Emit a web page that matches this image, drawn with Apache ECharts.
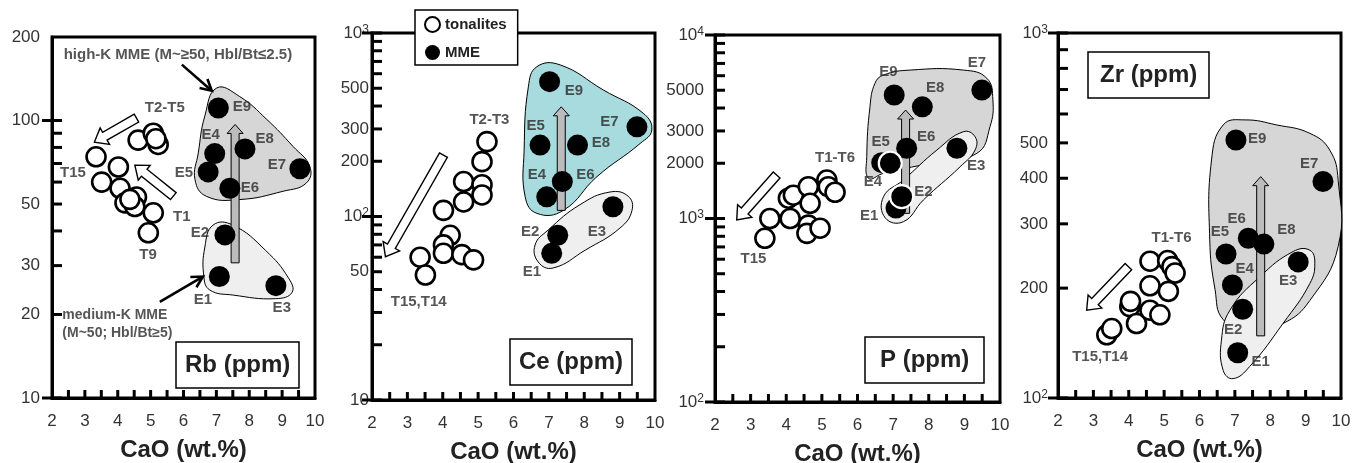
<!DOCTYPE html>
<html><head><meta charset="utf-8">
<script src="https://cdn.jsdelivr.net/npm/echarts@6/dist/echarts.min.js"></script>
<style>html,body{margin:0;padding:0;background:#fff}#c{width:1360px;height:463px}</style>
</head><body><div id="c"></div>
<script>
// ================= DATA =================
// x = CaO (wt.%), y = ppm
const rbTonalites = [[3.34,74],[3.51,60],[4.02,68],[4.07,57],[4.22,50.5],[4.57,53],[4.52,49],[4.37,52],[5.08,46.5],[4.93,39.4],[4.62,85],[5.08,90],[5.23,82],[5.16,86]];
const rbMME = [[7.09,27.4],[7.26,38.7],[8.81,25.4],[6.95,76],[6.75,65.3],[7.41,57],[9.54,67],[7.87,79],[7.06,111]]; // E1..E9
const ceTonalites = [[5.25,256],[5.11,199],[4.59,155],[5.11,149],[5.11,131],[4.59,120],[4.02,108],[4.21,79],[4.02,70],[4.02,63],[4.54,62],[4.87,58],[3.36,60],[3.51,48]];
const ceMME = [[7.08,63],[7.25,79],[8.81,113],[6.94,128],[6.75,245],[7.38,155],[9.49,308],[7.81,245],[7.02,543]];
const pTonalites = [[3.40,780],[3.54,1000],[4.11,1000],[4.06,1290],[4.20,1340],[4.62,1490],[4.67,1210],[4.62,920],[4.58,830],[4.95,885],[5.14,1620],[5.18,1490],[5.37,1390]];
const pMME = [[7.08,1140],[7.24,1315],[8.79,2415],[6.92,2000],[6.68,2015],[7.38,2415],[9.49,5010],[7.82,4060],[7.03,4710]];
const pMMEOutlined = [1,3]; // E2, E4 drawn with white rim
const zrTonalites = [[3.38,149],[3.52,155],[4.03,178],[4.05,184],[4.22,160],[4.60,174],[4.88,169],[4.60,203],[5.12,196],[4.60,237],[5.10,238],[5.22,229],[5.31,220]];
const zrMME = [[7.08,133],[7.22,175],[8.79,236],[6.93,204],[6.75,248],[7.38,274],[9.49,392],[7.82,264],[7.03,509]];

// field outlines
const rbHighK = [[7.01,131],[7.71,122],[8.53,101],[9.33,80.7],[9.84,68.4],[9.74,59.6],[9.03,55.6],[7.71,51.9],[6.70,53.3],[6.35,61.2],[6.45,76.4],[6.65,104]];
const rbMedK = [[6.9,42],[7.5,42],[8.5,34],[9.2,27],[9.3,24],[8.8,22.8],[7.5,23.5],[6.8,24.5],[6.62,27.4],[6.65,35]];
const ceHighK = [[6.66,655],[7.32,670],[8.54,489],[9.67,365],[9.91,296],[9.58,250],[8.36,165],[7.41,108],[6.66,104],[6.33,128],[6.30,230],[6.42,509]];
const ceMedK = [[8.73,136],[9.24,129],[9.35,108],[9.01,86.5],[8.03,65.6],[7.12,52.4],[6.70,56.5],[6.61,70],[6.98,84.4],[7.88,116]];
const pHighK = [[6.73,6050],[7.48,6440],[8.97,6440],[9.63,5810],[9.80,4425],[9.72,3165],[9.35,2265],[8.04,2000],[6.73,1763],[6.31,1655],[6.26,2172],[6.35,4065],[6.49,5455]];
const pMedK = [[8.97,2970],[9.30,2790],[9.30,2362],[8.88,1914],[7.85,1262],[7.29,961],[6.78,1007],[6.73,1315],[7.29,1622],[8.23,2362]];
const zrHighK = [[7.29,578],[8.18,560],[9.12,531],[9.68,478],[9.92,395],[9.92,260],[9.12,185],[8.36,160],[7.42,153],[6.67,164],[6.44,198],[6.29,271],[6.34,449],[6.67,560]];
const zrMedK = [[9.12,254],[9.26,234],[9.12,206],[8.36,160],[7.42,122],[6.95,113],[6.67,119],[6.62,144],[6.86,174],[7.71,215],[8.65,252]];

// trend arrows [tail, tip]
const rbGrayArrow = [[7.57,30.7],[7.57,96.8]];
const ceGrayArrow = [[7.35,108],[7.35,396]];
const pGrayArrow = [[7.35,1067],[7.35,3900]];
const zrGrayArrow = [[7.73,148],[7.73,404]];
const rbOpenArrows = [[[4.57,102],[3.29,83.6]],[[5.69,53.4],[4.52,69]]];
const ceOpenArrows = [[[4.02,216],[2.38,60.4]]];
const pOpenArrows = [[[3.73,1726],[2.61,982]]];
const zrOpenArrows = [[[3.99,229],[2.81,174]]];
const rbPointers = [[[5.95,159],[6.86,128]],[[5.28,22.2],[6.59,27.4]]];

// text annotations [x, y, text]
const rbText = [[5.43,111,'T2-T5'],[2.64,64.9,'T15'],[5.95,45,'T1'],[4.92,32.8,'T9'],[6.59,22.6,'E1'],[6.50,39.4,'E2'],[8.99,21.2,'E3'],[6.83,89,'E4'],[6.01,64.9,'E5'],[8.02,57.3,'E6'],[8.84,69.3,'E7'],[8.47,86,'E8'],[7.78,112,'E9'],[5.83,173,'high-K MME (M~≥50, Hbl/Bt≤2.5)']];
const rbTextLeft = [[2.30,18.5,'medium-K MME\n(M~50; Hbl/Bt≥5)']];
const ceText = [[5.32,336,'T2-T3'],[3.32,34.4,'T15,T14'],[6.52,50,'E1'],[6.47,82.6,'E2'],[8.36,82.6,'E3'],[6.66,168,'E4'],[6.63,311,'E5'],[8.03,168,'E6'],[8.71,329,'E7'],[8.47,251,'E8'],[7.71,485,'E9']];
const pText = [[5.37,2130,'T1-T6'],[3.08,600,'T15'],[6.33,1033,'E1'],[7.85,1400,'E2'],[9.33,1933,'E3'],[6.43,1588,'E4'],[6.65,2625,'E5'],[7.93,2790,'E6'],[9.35,7060,'E7'],[8.18,5120,'E8'],[6.87,6310,'E9']];
const zrText = [[5.21,274,'T1-T6'],[3.19,130,'T15,T14'],[7.73,126,'E1'],[6.95,154,'E2'],[8.51,210,'E3'],[7.28,226,'E4'],[6.58,286,'E5'],[7.05,310,'E6'],[9.10,437,'E7'],[8.46,288,'E8'],[7.63,512,'E9']];

// axes
const xRange = [2, 10];
const xTicks = [2.5,3,3.5,4,4.5,5,5.5,6,6.5,7,7.5,8,8.5,9,9.5];
const rbRange = [10, 200], ceRange = [10, 1000], pRange = [100, 10000], zrRange = [100, 1000];
const rbTicks = [20,30,40,50,60,70,80,90,100];
const ceTicks = [20,30,40,50,60,70,80,90,100,200,300,400,500,600,700,800,900];
const pTicks = [200,300,400,500,600,700,800,900,1000,2000,3000,4000,5000,6000,7000,8000,9000];
const zrTicks = [200,300,400,500,600,700,800,900];
const rbLabels = [10,20,30,50,100,200];
const ceLabels = [10,50,100,200,300,500,1000];
const pLabels = [100,1000,2000,3000,5000,10000];
const zrLabels = [100,200,300,400,500,1000];
const rbMajor = [10,100], ceMajor = [10,100,1000], pMajor = [100,1000,10000], zrMajor = [100,1000];
const elementNames = ['Rb (ppm)','Ce (ppm)','P (ppm)','Zr (ppm)'];
const xName = 'CaO (wt.%)';

// ================= CHART =================
const FONT = 'Liberation Sans, Arial, Helvetica, sans-serif';
const panels = [
  {grid:{left:52,top:37,width:263,height:361}, range:rbRange, ticks:rbTicks, labels:rbLabels, major:rbMajor, sup:false, margin:12,
   ton:rbTonalites, mme:rbMME, outlined:[], high:rbHighK, highFill:'#d6d6d6', med:rbMedK, gray:rbGrayArrow, open:rbOpenArrows, pointers:rbPointers, text:rbText, textLeft:rbTextLeft,
   title:{left:176,top:342,pad:[11,9]}},
  {grid:{left:372,top:33,width:283,height:367}, range:ceRange, ticks:ceTicks, labels:ceLabels, major:ceMajor, sup:true, margin:3,
   ton:ceTonalites, mme:ceMME, outlined:[], high:ceHighK, highFill:'#a8dbde', med:ceMedK, gray:ceGrayArrow, open:ceOpenArrows, pointers:[], text:ceText, textLeft:[],
   title:{left:510,top:339,pad:[11,9]}},
  {grid:{left:715,top:35,width:285,height:367}, range:pRange, ticks:pTicks, labels:pLabels, major:pMajor, sup:true, margin:11,
   ton:pTonalites, mme:pMME, outlined:pMMEOutlined, high:pHighK, highFill:'#d6d6d6', med:pMedK, gray:pGrayArrow, open:pOpenArrows, pointers:[], text:pText, textLeft:[],
   title:{left:865,top:337,pad:[11,15]}},
  {grid:{left:1058,top:33,width:283,height:365}, range:zrRange, ticks:zrTicks, labels:zrLabels, major:zrMajor, sup:true, margin:10,
   ton:zrTonalites, mme:zrMME, outlined:[], high:zrHighK, highFill:'#d6d6d6', med:zrMedK, gray:zrGrayArrow, open:zrOpenArrows, pointers:[], text:zrText, textLeft:[],
   title:{left:1088,top:52,pad:[11,12]}}
];

function polySeries(verts, fill, xi, yi){
  return {type:'custom', coordinateSystem:'cartesian2d', xAxisIndex:xi, yAxisIndex:yi, z:1, silent:true, clip:false,
    data: verts, encode:{x:0,y:1},
    renderItem:(params, api)=>{
      if(params.dataIndex!==0) return null;
      const pts = verts.map(v=>api.coord(v));
      return {type:'polygon', shape:{points:pts, smooth:0.45}, style:{fill:fill, stroke:'#000', lineWidth:1}};
    }};
}
function arrowSeries(pair, opt, xi, yi){
  return {type:'custom', coordinateSystem:'cartesian2d', xAxisIndex:xi, yAxisIndex:yi, z:2, silent:true, clip:false,
    data: pair, encode:{x:0,y:1},
    renderItem:(params, api)=>{
      if(params.dataIndex!==0) return null;
      const a=api.coord(pair[0]), b=api.coord(pair[1]);
      let dx=b[0]-a[0], dy=b[1]-a[1]; const L=Math.hypot(dx,dy); dx/=L; dy/=L;
      const nx=-dy, ny=dx, w=opt.shaft/2, hw=opt.head/2, hl=opt.headLen;
      const bx=b[0]-dx*hl, by=b[1]-dy*hl;
      const pts=[[a[0]+nx*w,a[1]+ny*w],[bx+nx*w,by+ny*w],[bx+nx*hw,by+ny*hw],[b[0],b[1]],[bx-nx*hw,by-ny*hw],[bx-nx*w,by-ny*w],[a[0]-nx*w,a[1]-ny*w]];
      return {type:'polygon', shape:{points:pts}, style:{fill:opt.fill, stroke:'#000', lineWidth:opt.lw}};
    }};
}
function pointerSeries(pair, xi, yi){
  return {type:'custom', coordinateSystem:'cartesian2d', xAxisIndex:xi, yAxisIndex:yi, z:2, silent:true, clip:false,
    data: pair, encode:{x:0,y:1},
    renderItem:(params, api)=>{
      if(params.dataIndex!==0) return null;
      const a=api.coord(pair[0]), b=api.coord(pair[1]);
      let dx=b[0]-a[0], dy=b[1]-a[1]; const L=Math.hypot(dx,dy); dx/=L; dy/=L;
      const nx=-dy, ny=dx;
      return {type:'group', children:[
        {type:'line', shape:{x1:a[0],y1:a[1],x2:b[0]-dx*2,y2:b[1]-dy*2}, style:{stroke:'#000', lineWidth:2.6}},
        {type:'polyline', shape:{points:[[b[0]-dx*11+nx*6,b[1]-dy*11+ny*6],[b[0],b[1]],[b[0]-dx*11-nx*6,b[1]-dy*11-ny*6]]}, style:{stroke:'#000', lineWidth:2.6, fill:null}}
      ]};
    }};
}

const grids=[], xAxes=[], yAxes=[], series=[], titles=[];
panels.forEach((p,i)=>{
  grids.push(Object.assign({show:true, borderColor:'#000', borderWidth:3, backgroundColor:'transparent', containLabel:false, outerBoundsMode:'none'}, p.grid));
  xAxes.push({type:'value', gridIndex:i, min:xRange[0], max:xRange[1], interval:1,
    axisLine:{show:true, onZero:false, lineStyle:{color:'#000', width:3}},
    axisTick:{show:false},
    axisLabel:{show:true, fontSize:17, color:'#333', margin:15, fontFamily:FONT},
    splitLine:{show:false},
    name:xName, nameLocation:'middle', nameGap:40, nameTextStyle:{fontSize:24, fontWeight:'bold', color:'#222', fontFamily:FONT}});
  const fmt = v=>{
    const e=Math.log10(v), r=Math.round(e);
    if(p.sup && v>=100 && Math.abs(e-r)<1e-9) return '{b|10}{s|'+r+'}';
    return '{b|'+Math.round(v)+'}';
  };
  yAxes.push({type:'log', logBase:10, gridIndex:i, min:p.range[0], max:p.range[1], position:'left',
    axisLine:{show:true, onZero:false, lineStyle:{color:'#000', width:3}},
    axisTick:{show:false},
    axisLabel:{show:true, margin:p.margin, customValues:p.labels, formatter:fmt, fontFamily:FONT,
      rich:{b:{fontSize:17, lineHeight:19, color:'#333', fontFamily:FONT}, s:{fontSize:12, lineHeight:12, color:'#333', verticalAlign:'top', fontFamily:FONT}}},
    splitLine:{show:false}, minorTick:{show:false}});
  const yi = i;
  series.push(polySeries(p.high, p.highFill, i, yi));
  series.push(polySeries(p.med, '#efefef', i, yi));
  series.push(arrowSeries(p.gray, {shaft:8, head:16, headLen:9, fill:'#bcbcbc', lw:1}, i, yi));
  p.open.forEach(a=>series.push(arrowSeries(a, {shaft:9, head:19, headLen:12, fill:'#fff', lw:1.4}, i, yi)));
  p.pointers.forEach(a=>series.push(pointerSeries(a, i, yi)));
  series.push({type:'scatter', name:'tonalites', xAxisIndex:i, yAxisIndex:yi, data:p.ton, symbol:'circle', symbolSize:19, z:3, silent:true, clip:false,
    itemStyle:{color:'#fff', borderColor:'#000', borderWidth:2.6, opacity:1}});
  const mmeItems = p.mme.map((v,k)=>({value:v, k:k}));
  mmeItems.sort((a,b)=>(p.outlined.includes(a.k)?1:0)-(p.outlined.includes(b.k)?1:0));
  series.push({type:'scatter', name:'MME', xAxisIndex:i, yAxisIndex:yi, symbol:'circle', symbolSize:21, z:4, silent:true, clip:false,
    itemStyle:{color:'#000', borderColor:'#000', borderWidth:0, opacity:1},
    data: mmeItems.map(it=>p.outlined.includes(it.k)?{value:it.value, symbolSize:23, itemStyle:{color:'#000', borderColor:'#fff', borderWidth:2.2}}:{value:it.value})});
  series.push({type:'scatter', xAxisIndex:i, yAxisIndex:yi, symbol:'circle', symbolSize:1, z:5, silent:true, clip:false,
    itemStyle:{color:'rgba(0,0,0,0)'},
    label:{show:true, position:'inside', formatter:'{b}', fontSize:15, fontWeight:'bold', color:'#2a2a2a', fontFamily:FONT, textBorderWidth:0},
    data:p.text.map(t=>({value:[t[0],t[1]], name:t[2]}))});
  if(p.textLeft.length) series.push({type:'scatter', xAxisIndex:i, yAxisIndex:yi, symbol:'circle', symbolSize:1, z:5, silent:true, clip:false,
    itemStyle:{color:'rgba(0,0,0,0)'},
    label:{show:true, position:'right', distance:0, align:'left', formatter:'{b}', fontSize:14, lineHeight:18, fontWeight:'bold', color:'#2a2a2a', fontFamily:FONT, textBorderWidth:0},
    data:p.textLeft.map(t=>({value:[t[0],t[1]], name:t[2]}))});
  titles.push({text:elementNames[i], left:p.title.left, top:p.title.top, padding:p.title.pad, borderColor:'#000', borderWidth:1.5, backgroundColor:'#fff',
    textStyle:{fontSize:24, fontWeight:'bold', color:'#222', fontFamily:FONT}});
});

const chart = echarts.init(document.getElementById('c'), null, {renderer:'canvas'});
chart.setOption({
  animation:false, backgroundColor:'#fff',
  title:titles,
  legend:{show:true, left:415, top:10, orient:'vertical', data:['tonalites','MME'], icon:'circle', itemWidth:15, itemHeight:15, itemGap:12,
    padding:[6,11,5,9], borderColor:'#000', borderWidth:1.5, backgroundColor:'#fff', selectedMode:false,
    textStyle:{fontSize:15, fontWeight:'bold', color:'#222', fontFamily:FONT}},
  grid:grids, xAxis:xAxes, yAxis:yAxes, series:series
});

// axis tick marks, positioned through each grid's own axis scales
const tickEls = [];
const tickLine = (x1,y1,x2,y2)=>tickEls.push({type:'line', silent:true, z:50, shape:{x1:x1,y1:y1,x2:x2,y2:y2}, style:{stroke:'#000', lineWidth:3}});
panels.forEach((p,i)=>{
  const toPx = v => chart.convertToPixel({xAxisIndex:i, yAxisIndex:i}, v);
  xTicks.forEach(v=>{ const c=toPx([v, p.range[0]]); tickLine(c[0], c[1], c[0], c[1]-8); });
  p.ticks.forEach(v=>{ const c=toPx([xRange[0], v]); tickLine(c[0], c[1], c[0]+10, c[1]); });
  p.major.forEach(v=>{ const c=toPx([xRange[0], v]); tickLine(c[0]-10, c[1], c[0]+10, c[1]); });
});
chart.setOption({graphic:{elements:tickEls}});
</script></body></html>
